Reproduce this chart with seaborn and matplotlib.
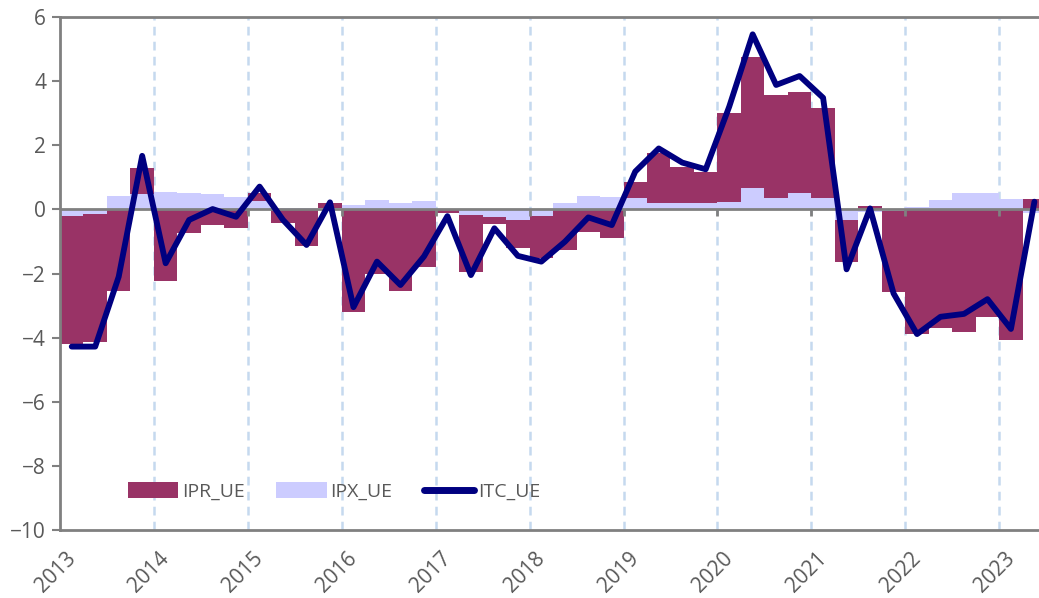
import matplotlib
matplotlib.use('Agg')
import matplotlib.pyplot as plt
import matplotlib.transforms as mtransforms
from matplotlib.patches import Patch
from matplotlib.lines import Line2D
import seaborn as sns
import numpy as np
import pandas as pd

# trimestres 2013T1 .. 2023T2
quarters = pd.period_range('2013Q1', '2023Q2', freq='Q').astype(str)

ipr_ue = [-4.0, -4.0, -2.55, 0.81, -2.23, -0.75, -0.5, -0.59,
          0.26, -0.41, -1.14, 0.18, -3.2, -2.0, -2.54, -1.79,
          -0.1, -1.77, -0.22, -0.88, -1.33, -1.27, -0.7, -0.88,
          0.47, 1.54, 1.14, 0.97, 2.78, 4.08, 3.2, 3.17,
          2.8, -1.32, 0.12, -2.53, -3.89, -3.71, -3.81, -3.37,
          -4.07, 0.32]
ipx_ue = [-0.2, -0.15, 0.42, 0.47, 0.55, 0.5, 0.47, 0.38,
          0.25, 0.05, 0.05, 0.03, 0.15, 0.29, 0.19, 0.25,
          0.0, -0.17, -0.25, -0.33, -0.2, 0.21, 0.42, 0.38,
          0.37, 0.21, 0.19, 0.19, 0.24, 0.68, 0.37, 0.5,
          0.35, -0.33, -0.07, -0.05, 0.08, 0.29, 0.5, 0.5,
          0.32, -0.1]
itc_ue = [-4.28, -4.28, -2.1, 1.67, -1.68, -0.33, 0.01, -0.23,
          0.71, -0.33, -1.11, 0.22, -3.05, -1.63, -2.36, -1.47,
          -0.21, -2.05, -0.59, -1.45, -1.63, -1.01, -0.25, -0.49,
          1.18, 1.9, 1.46, 1.25, 3.2, 5.46, 3.88, 4.16,
          3.48, -1.87, 0.03, -2.62, -3.89, -3.35, -3.26, -2.8,
          -3.73, 0.24]
years = [str(y) for y in range(2013, 2024)]

df = pd.DataFrame({'trim': quarters, 'IPR_UE': ipr_ue,
                   'IPX_UE': ipx_ue, 'ITC_UE': itc_ue})
df['pos'] = np.arange(len(df))

# empilement façon Excel : positifs et négatifs séparés, IPX contre zéro
ipx = df['IPX_UE'].values
ipr = df['IPR_UE'].values
base_pos = np.where(ipx > 0, ipx, 0)
base_neg = np.where(ipx < 0, ipx, 0)
ipr_bottom = np.where(ipr >= 0, base_pos, base_neg)

sns.set_theme(style='white')
plt.rcParams['font.family'] = ['Open Sans', 'DejaVu Sans']

c_ipr = '#993366'
c_ipx = '#CCCCFF'
c_itc = '#000080'
grey = '#808080'
txt = '#595959'

fig = plt.figure(figsize=(10.39, 5.98), dpi=100)
ax = fig.add_axes([60 / 1039, 68 / 598, 979 / 1039, 513 / 598])

# lignes verticales pointillées aux années
year_pos = np.arange(len(years)) * 4 - 0.5
for xp in year_pos[1:]:
    ax.axvline(xp, color='#C5D9EF', lw=1.8, ls=(0, (3.5, 2.5)), zorder=0)

ax.bar(df['pos'], ipx, width=1.0, color=c_ipx, linewidth=0, zorder=2)
ax.bar(df['pos'], ipr, width=1.0, bottom=ipr_bottom, color=c_ipr,
       linewidth=0, zorder=2)

sns.lineplot(data=df, x='pos', y='ITC_UE', color=c_itc, lw=4.2,
             ax=ax, zorder=4, legend=False)

# axe des abscisses à zéro
ax.axhline(0, color=grey, lw=2, zorder=3)
ax.vlines(year_pos[1:], -0.22, 0, color=grey, lw=2, zorder=3)

ax.set_xlim(-0.5, -0.5 + 979 / 23.48)
ax.set_ylim(-10, 6)
ax.set_yticks(np.arange(-10, 7, 2))
ax.set_xticks(year_pos, years, rotation=45, ha='right',
              rotation_mode='anchor')

ax.tick_params(axis='x', length=0, labelsize=15, labelcolor=txt, pad=6)
ax.tick_params(axis='y', length=6, width=1.5, color=grey, direction='out',
               left=True, labelsize=15, labelcolor=txt, pad=4)

# décalage des étiquettes d'années (après tick_params qui réinitialise)
offset = mtransforms.ScaledTranslation(0.05, -0.10, fig.dpi_scale_trans)
for lab in ax.get_xticklabels():
    lab.set_transform(lab.get_transform() + offset)

for side in ['left', 'bottom', 'top']:
    ax.spines[side].set_color(grey)
    ax.spines[side].set_linewidth(2)
ax.spines['right'].set_visible(False)

ax.set_xlabel('')
ax.set_ylabel('')

handles = [Patch(facecolor=c_ipr, edgecolor='none', label='IPR_UE'),
           Patch(facecolor=c_ipx, edgecolor='none', label='IPX_UE'),
           Line2D([0], [0], color=c_itc, lw=5, solid_capstyle='round',
                  label='ITC_UE')]
leg = ax.legend(handles=handles, loc='center', bbox_to_anchor=(0.28, 0.075),
                ncol=3, frameon=False, fontsize=14, handlelength=2.6,
                handleheight=0.85, handletextpad=0.2, columnspacing=1.6)
for t in leg.get_texts():
    t.set_color(txt)

plt.savefig('out.png', dpi=100)
plt.close()
